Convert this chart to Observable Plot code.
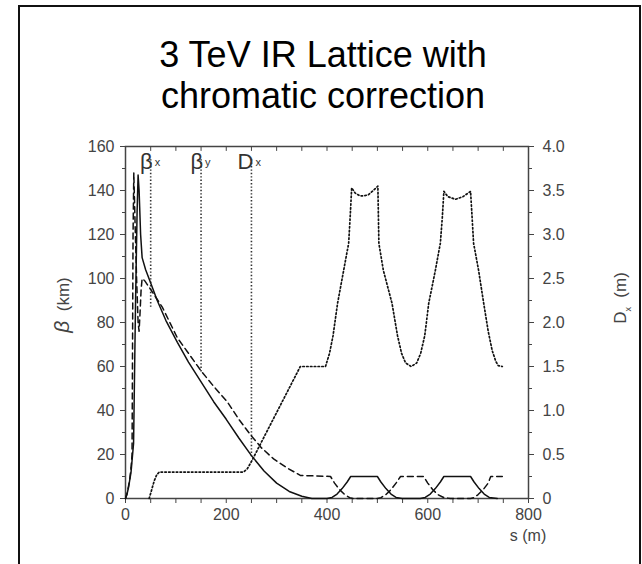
<!DOCTYPE html>
<html>
<head>
<meta charset="utf-8">
<script src="https://cdn.jsdelivr.net/npm/d3@7"></script>
<script src="https://cdn.jsdelivr.net/npm/@observablehq/plot@0.6"></script>
<style>
  html, body { margin: 0; padding: 0; background: #fff; }
  #page { position: relative; width: 642px; height: 564px; overflow: hidden; font-family: "Liberation Sans", Arial, sans-serif; }
  #border { position: absolute; left: 18px; top: 5px; width: 623px; height: 620px; border: 2px solid #111; box-sizing: border-box; }
  #title { position: absolute; left: 0; width: 646px; top: 34px; text-align: center; font-size: 36px; line-height: 41px; color: #000; }
  #chart { position: absolute; left: 0; top: 120px; }
  .axlabel { position: absolute; font-size: 17px; color: #444; white-space: nowrap; transform: translate(-50%, -50%) rotate(-90deg); }
  #xlabel { position: absolute; left: 528px; top: 527px; transform: translateX(-50%); font-size: 16px; color: #444; white-space: nowrap; }
</style>
</head>
<body>
<div id="page">
  <div id="border"></div>
  <div id="title">3 TeV IR Lattice with<br>chromatic correction</div>
  <div id="chart"></div>
  <div class="axlabel" style="left:62px; top:305px;"><i style="font-size:21px">β</i>&nbsp;&nbsp;(km)</div>
  <div class="axlabel" style="left:622px; top:298px;">D<sub style="font-size:9px">x</sub>&nbsp;&nbsp;(m)</div>
  <div id="xlabel">s (m)</div>
</div>
<script>
// ---- data ----
// solid beta curve (km) vs s (m)
const sSolid = [0, 3, 6, 11, 16, 20, 23, 25, 27, 30, 33, 40, 50, 63, 80, 103, 125, 150, 175, 200, 225, 250, 275, 300, 325, 350, 370,
  400, 410, 420, 430, 440, 447, 500, 507, 517, 527, 537, 549,
  585, 595, 605, 615, 625, 632, 685, 692, 702, 712, 722, 738];
const betaSolid = [0, 2, 5, 12, 25, 90, 130, 147, 140, 120, 109.5, 104, 98, 90, 81, 71, 62, 53, 44, 36, 27.5, 19.5, 12.5, 7, 3.2, 1, 0,
  0, 0.5, 2, 4.5, 7.5, 10, 10, 7.5, 4.5, 2, 0.5, 0,
  0, 0.5, 2, 4.5, 7.5, 10, 10, 7.5, 4.5, 2, 0.5, 0];
// dashed beta curve (km) vs s (m)
const sDashed = [0, 3, 8, 11, 13, 14, 15, 16.5, 19, 22, 25, 27, 29, 31, 33, 38, 50, 73, 103, 125, 150, 175, 202, 225, 248, 270, 294, 320, 347,
  407, 415, 425, 435, 445, 452, 500, 507, 517, 527, 537, 546,
  592, 600, 610, 620, 632, 645, 685, 692, 700, 710, 720, 725, 748];
const betaDashed = [0, 2, 8, 14, 20, 70, 120, 148, 125, 100, 80, 76, 85, 95, 100, 99, 95, 87, 73, 66, 58, 51, 44, 36, 29, 23, 18, 14, 10.5,
  10, 7, 4, 1.8, 0.4, 0, 0, 0.4, 1.8, 4, 7, 10,
  10, 7, 4, 1.8, 0.4, 0, 0, 0.4, 1.8, 4, 7, 10, 10];
// dotted dispersion curve Dx (m) vs s (m)
const sDx = [47, 52, 57, 62, 67, 234, 242, 250, 347, 397, 405, 412, 421, 433, 443, 446, 449, 456, 465, 473, 482, 492, 501,
  503, 512, 529, 540, 548, 556, 567, 578, 586, 594, 602, 615, 625, 629, 632, 640, 655, 670, 685,
  688, 691, 701, 711, 720, 728, 735, 740, 748];
const dispersion = [0, 0.1, 0.2, 0.27, 0.3, 0.3, 0.34, 0.42, 1.5, 1.5, 1.65, 1.85, 2.22, 2.59, 2.9, 3.2, 3.53, 3.47, 3.44, 3.44, 3.45, 3.5, 3.55,
  2.9, 2.59, 2.22, 1.85, 1.65, 1.54, 1.5, 1.54, 1.65, 1.85, 2.22, 2.59, 2.9, 3.2, 3.49, 3.43, 3.4, 3.43, 3.49,
  3.2, 2.9, 2.59, 2.22, 1.9, 1.68, 1.56, 1.51, 1.5];
// annotation markers at the top
const markerS = [50, 150, 250];
const markerTop = [154, 154, 154];
const markerEnd = [86, 57, 19];
const markerMain = ["β", "β", "D"];
const markerSub = ["x", "y", "x"];
// axes
const xTicks = [0, 50, 100, 150, 200, 250, 300, 350, 400, 450, 500, 550, 600, 650, 700, 750, 800];
const xTickLabels = ["0", "200", "400", "600", "800"];
const yTicks = [0, 20, 40, 60, 80, 100, 120, 140, 160];
const yMinor = [10, 30, 50, 70, 90, 110, 130, 150];
const dxTicks = [0, 0.5, 1, 1.5, 2, 2.5, 3, 3.5, 4];
const dxTickLabels = ["0", "0.5", "1.0", "1.5", "2.0", "2.5", "3.0", "3.5", "4.0"];
const dxMinor = [0.25, 0.75, 1.25, 1.75, 2.25, 2.75, 3.25, 3.75];

const DX_TO_BETA = 160 / 4; // right axis 0–4 m shares the 0–160 km range
const axisColor = "#444";
const ink = "#111";

const solid = sSolid.map((s, i) => ({s, v: betaSolid[i]}));
const dashed = sDashed.map((s, i) => ({s, v: betaDashed[i]}));
const dotted = sDx.map((s, i) => ({s, v: dispersion[i] * DX_TO_BETA}));
const markers = markerS.map((s, i) => ({s, top: markerTop[i], end: markerEnd[i], main: markerMain[i], sub: markerSub[i]}));

const tickShape = {draw(context, l) { context.moveTo(0, 0); context.lineTo(0, -l); }};

const chart = Plot.plot({
  width: 642,
  height: 420,
  marginLeft: 125,
  marginRight: 114,
  marginTop: 26,
  marginBottom: 42,
  style: {fontFamily: "'Liberation Sans', Arial, sans-serif", background: "transparent"},
  x: {domain: [0, 800], label: null},
  y: {domain: [0, 160], label: null},
  marks: [
    Plot.frame({stroke: axisColor, strokeWidth: 1.5}),
    // bottom axis
    Plot.axisX({ticks: xTicks, tickSize: 5, tickPadding: 5, fontSize: 16, color: axisColor,
      tickFormat: d => xTickLabels.includes(String(d)) ? String(d) : ""}),
    // top inward ticks
    Plot.vector(xTicks, {x: d => d, frameAnchor: "top", length: 4, rotate: 180, anchor: "start", shape: tickShape, stroke: axisColor, strokeWidth: 1}),
    // left axis
    Plot.axisY({ticks: yTicks, tickSize: 5, tickPadding: 6, fontSize: 16, color: axisColor}),
    Plot.axisY({ticks: yMinor, tickSize: 3, tickFormat: () => "", color: axisColor}),
    // right axis (Dx)
    Plot.axisY({anchor: "right", ticks: dxTicks.map(d => d * DX_TO_BETA), tickSize: 5, tickPadding: 9, fontSize: 16, color: axisColor,
      tickFormat: d => dxTickLabels[dxTicks.indexOf(d / DX_TO_BETA)]}),
    Plot.axisY({anchor: "right", ticks: dxMinor.map(d => d * DX_TO_BETA), tickSize: 3, tickFormat: () => "", color: axisColor}),
    // annotation lines
    Plot.ruleX(markers, {x: "s", y1: "top", y2: "end", stroke: "#333", strokeWidth: 1.6, strokeDasharray: "1.4,2"}),
    Plot.text(markers, {x: "s", frameAnchor: "top", text: "main", textAnchor: "end", dx: 2, dy: 7, fontSize: 22,
      fontStyle: d => d.main === "β" ? "italic" : "normal", fill: "#333"}),
    Plot.text(markers, {x: "s", frameAnchor: "top", text: "sub", textAnchor: "start", dx: 4, dy: 12, fontSize: 11, fill: "#333"}),
    // curves
    Plot.line(dotted, {x: "s", y: "v", stroke: ink, strokeWidth: 1.7, strokeDasharray: "1.5,2.3"}),
    Plot.line(dashed, {x: "s", y: "v", stroke: ink, strokeWidth: 1.5, strokeDasharray: "6,4"}),
    Plot.line(solid, {x: "s", y: "v", stroke: ink, strokeWidth: 1.5})
  ]
});
document.getElementById("chart").appendChild(chart);
</script>
</body>
</html>
